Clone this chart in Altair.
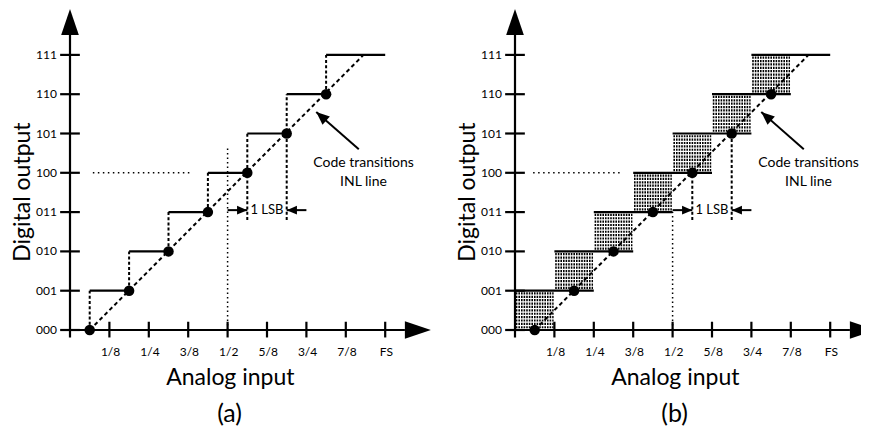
import math
import altair as alt
import numpy as np
import pandas as pd

# ---------------- data (units: x in 1/8 of full scale, y in output codes) ----------------
X_TICK_POS = [1, 2, 3, 4, 5, 6, 7, 8]
X_TICK_LABELS = ["1/8", "1/4", "3/8", "1/2", "5/8", "3/4", "7/8", "FS"]
Y_CODES = [0, 1, 2, 3, 4, 5, 6, 7]
Y_CODE_LABELS = ["000", "001", "010", "011", "100", "101", "110", "111"]

TRANSITION_X = [0.5, 1.5, 2.5, 3.5, 4.5, 5.5, 6.5]
TRANSITION_CODE = [0, 1, 2, 3, 4, 5, 6]
INL_X = [0.5, 7.45]
INL_Y = [0, 7]

# panel (a): ideal staircase
A_STEP_CODE = [1, 2, 3, 4, 5, 6, 7]
A_STEP_START = [0.5, 1.5, 2.5, 3.5, 4.5, 5.5, 6.5]
A_STEP_END = [1.5, 2.5, 3.5, 4.5, 5.5, 6.5, 8.0]
A_RISER_X = [0.5, 1.5, 2.5, 3.5, 4.5, 5.5, 6.5]
A_RISER_BOTTOM = [0, 1, 2, 3, 2.8, 2.8, 6]
A_RISER_TOP = [1, 2, 3, 4, 5, 6, 7]

# panel (b): shaded code uncertainty boxes
B_BOX_LEFT = [0, 1, 2, 3, 4, 5, 6]
B_BOX_RIGHT = [1, 2, 3, 4, 5, 6, 7]
B_BOX_BOTTOM = [0, 1, 2, 3, 4, 5, 6]
B_BOX_TOP = [1, 2, 3, 4, 5, 6, 7]
B_LINE_CODE = [1, 2, 3, 4, 5, 6, 7]
B_LINE_START = [0, 1, 2, 3, 4, 5, 6]
B_LINE_END = [2, 3, 4, 5, 6, 7, 8]
B_RISER_X = [4.5, 5.5]
B_RISER_BOTTOM = [2.8, 2.8]
B_RISER_TOP = [4, 5]

HALF_X = 4
HALF_TOP = {"a": 4.66, "b": 3.0}
MID_CODE = 4
MID_START = {"a": 0.58, "b": 0.46}
MID_END = {"a": 3.05, "b": 2.72}

LSB_LEVEL = 3.05
LSB_LEFT_TAIL, LSB_LEFT_TIP = 4.0, 4.5
LSB_RIGHT_TAIL, LSB_RIGHT_TIP = 6.0, 5.5
LSB_TEXT_X = 5.0

NOTE_TIP = (6.25, 5.55)
NOTE_TAIL = (7.33, 4.6)
NOTE_LINES = ["Code transitions", "INL line"]
NOTE_X = 7.45
NOTE_Y = [4.25, 3.77]

PANEL_LABELS = {"a": "(a)", "b": "(b)"}

# ---------------- layout ----------------
W, H = 853, 422
PX_X, PX_Y = 39.4, 39.3          # pixels per unit
ORIGIN_X, ORIGIN_Y = 62, 322     # chart px of panel (a) origin
SHIFT = {"a": 0.0, "b": 445 / PX_X}

XS = alt.Scale(domain=[-ORIGIN_X / PX_X, (W - ORIGIN_X) / PX_X], nice=False, zero=False)
YS = alt.Scale(domain=[(ORIGIN_Y - H) / PX_Y, ORIGIN_Y / PX_Y], nice=False, zero=False)
FONT = "Lato"


def place(rows, panels=("a", "b")):
    out = []
    for p in panels:
        for r in rows:
            d = dict(r)
            for k in ("x", "x2"):
                if k in d:
                    d[k] = d[k] + SHIFT[p]
            d["panel"] = p
            out.append(d)
    return pd.DataFrame(out)


def ex(**kw):
    enc = dict(x=alt.X("x:Q", scale=XS, axis=None), y=alt.Y("y:Q", scale=YS, axis=None))
    enc.update(kw)
    return enc


def seg(df, **mk):
    enc = ex()
    if "x2" in df.columns:
        enc["x2"] = alt.X2("x2:Q")
    if "y2" in df.columns:
        enc["y2"] = alt.Y2("y2:Q")
    return alt.Chart(df).mark_rule(color="black", **mk).encode(**enc)


layers = []

# pattern fill of the boxes (b)
ROW_FRAC = np.linspace(0.07, 0.93, 11)
pat = []
for l, r, b in zip(B_BOX_LEFT, B_BOX_RIGHT, B_BOX_BOTTOM):
    for f in ROW_FRAC:
        pat.append({"x": l + 0.02, "x2": r - 0.02, "y": b + f})
layers.append(seg(place(pat, ("b",)), strokeWidth=2.2, strokeDash=[1.6, 1.0]))

# dotted guides
dots_v = [{"x": HALF_X, "y": 0, "y2": HALF_TOP[p], "panel": p} for p in ("a", "b")]
dv = pd.DataFrame([{**d, "x": d["x"] + SHIFT[d["panel"]]} for d in dots_v])
layers.append(seg(dv, strokeWidth=1.5, strokeDash=[1.5, 3]))
dots_h = [{"x": MID_START[p] + SHIFT[p], "x2": MID_END[p] + SHIFT[p], "y": MID_CODE} for p in ("a", "b")]
layers.append(seg(pd.DataFrame(dots_h), strokeWidth=1.5, strokeDash=[1.5, 3.5]))

# dashed risers
ar = [{"x": x, "y": b, "y2": t} for x, b, t in zip(A_RISER_X, A_RISER_BOTTOM, A_RISER_TOP)]
br = [{"x": x, "y": b, "y2": t} for x, b, t in zip(B_RISER_X, B_RISER_BOTTOM, B_RISER_TOP)]
layers.append(seg(pd.concat([place(ar, ("a",)), place(br, ("b",))]), strokeWidth=2, strokeDash=[3, 2.2]))

# INL dashed line
inl = [{"x": INL_X[0], "x2": INL_X[1], "y": INL_Y[0], "y2": INL_Y[1]}]
layers.append(seg(place(inl), strokeWidth=2, strokeDash=[4, 3]))

# solid steps
ast = [{"x": s, "x2": e, "y": c} for c, s, e in zip(A_STEP_CODE, A_STEP_START, A_STEP_END)]
bst = [{"x": s, "x2": e, "y": c} for c, s, e in zip(B_LINE_CODE, B_LINE_START, B_LINE_END)]
layers.append(seg(pd.concat([place(ast, ("a",)), place(bst, ("b",))]), strokeWidth=2.2))

# axes
AX_Y_BOTTOM, AX_Y_TOP = -0.19, 7.55
AX_X_END = 8.5
axes = [{"x": 0, "y": AX_Y_BOTTOM, "y2": AX_Y_TOP}]
layers.append(seg(place(axes), strokeWidth=2.2))
axes_h = [{"x": 0, "x2": AX_X_END, "y": 0}]
layers.append(seg(place(axes_h), strokeWidth=2.2))

# ticks
yt = [{"x": -0.25, "x2": 0.25, "y": c} for c in Y_CODES]
layers.append(seg(place(yt), strokeWidth=2.2))
xt = [{"x": p, "y": -0.19, "y2": 0.21} for p in X_TICK_POS]
layers.append(seg(place(xt), strokeWidth=2.2))

# transition dots
dd = [{"x": x, "y": c} for x, c in zip(TRANSITION_X, TRANSITION_CODE)]
layers.append(alt.Chart(place(dd)).mark_point(filled=True, shape="circle", size=110, color="black",
                                             opacity=1, strokeWidth=0).encode(**ex()))

# arrowheads
AXIS_HEAD = "M0,0L-1,-0.34L-1,0.34Z"
SMALL_HEAD = "M0,0L-1,-0.42L-1,0.42Z"
heads = [{"x": 0, "y": 8.17, "angle": 270}, {"x": 9.16, "y": 0, "angle": 0}]
layers.append(alt.Chart(place(heads)).mark_point(filled=True, shape=AXIS_HEAD, size=2704, color="black",
                                                 opacity=1, strokeWidth=0)
              .encode(**ex(angle=alt.Angle("angle:Q", scale=None))))

# 1 LSB marker
lsb_lines = [{"x": LSB_LEFT_TAIL, "x2": LSB_LEFT_TIP, "y": LSB_LEVEL},
             {"x": LSB_RIGHT_TAIL, "x2": LSB_RIGHT_TIP, "y": LSB_LEVEL}]
layers.append(seg(place(lsb_lines), strokeWidth=2))
lsb_heads = [{"x": LSB_LEFT_TIP, "y": LSB_LEVEL, "angle": 0},
             {"x": LSB_RIGHT_TIP, "y": LSB_LEVEL, "angle": 180}]
layers.append(alt.Chart(place(lsb_heads)).mark_point(filled=True, shape=SMALL_HEAD, size=420, color="black",
                                                     opacity=1, strokeWidth=0)
              .encode(**ex(angle=alt.Angle("angle:Q", scale=None))))
layers.append(alt.Chart(place([{"x": LSB_TEXT_X, "y": LSB_LEVEL, "t": "1 LSB"}]))
              .mark_text(font=FONT, fontSize=13, align="center", baseline="middle", color="black")
              .encode(**ex(text="t:N")))

# note arrow
dxp = (NOTE_TIP[0] - NOTE_TAIL[0]) * PX_X
dyp = -(NOTE_TIP[1] - NOTE_TAIL[1]) * PX_Y
note_angle = math.degrees(math.atan2(dyp, dxp)) % 360
layers.append(seg(place([{"x": NOTE_TAIL[0], "y": NOTE_TAIL[1], "x2": NOTE_TIP[0], "y2": NOTE_TIP[1]}]),
                  strokeWidth=2))
layers.append(alt.Chart(place([{"x": NOTE_TIP[0], "y": NOTE_TIP[1], "angle": note_angle}]))
              .mark_point(filled=True, shape=SMALL_HEAD, size=700, color="black", opacity=1, strokeWidth=0)
              .encode(**ex(angle=alt.Angle("angle:Q", scale=None))))
notes = [{"x": NOTE_X, "y": y, "t": t} for t, y in zip(NOTE_LINES, NOTE_Y)]
layers.append(alt.Chart(place(notes)).mark_text(font=FONT, fontSize=14, align="center", baseline="middle",
                                                color="black").encode(**ex(text="t:N")))

# tick labels
ytl = [{"x": -0.33, "y": c, "t": l} for c, l in zip(Y_CODES, Y_CODE_LABELS)]
layers.append(alt.Chart(place(ytl)).mark_text(font=FONT, fontSize=12, align="right", baseline="middle",
                                              color="black").encode(**ex(text="t:N")))
xtl = [{"x": p + 0.03, "y": -0.56, "t": l} for p, l in zip(X_TICK_POS, X_TICK_LABELS)]
layers.append(alt.Chart(place(xtl)).mark_text(font=FONT, fontSize=12, align="center", baseline="middle",
                                              color="black").encode(**ex(text="t:N")))

# axis titles and panel labels
layers.append(alt.Chart(place([{"x": 4.07, "y": -1.22, "t": "Analog input"}]))
              .mark_text(font=FONT, fontSize=23, align="center", baseline="middle", color="black")
              .encode(**ex(text="t:N")))
layers.append(alt.Chart(place([{"x": -1.2, "y": 3.51, "t": "Digital output"}]))
              .mark_text(font=FONT, fontSize=23, align="center", baseline="middle", angle=270, color="black")
              .encode(**ex(text="t:N")))
pl = pd.DataFrame([{"x": 4.05 + SHIFT[p], "y": -2.14, "t": PANEL_LABELS[p]} for p in ("a", "b")])
layers.append(alt.Chart(pl).mark_text(font=FONT, fontSize=25, align="center", baseline="middle",
                                      color="black").encode(**ex(text="t:N")))

chart = (alt.layer(*layers)
         .properties(width=W, height=H, padding=0, autosize=alt.AutoSizeParams(type="none"),
                     background="white")
         .configure_view(stroke=None))

chart.save("out.html", embed_options={"renderer": "svg", "actions": False})
